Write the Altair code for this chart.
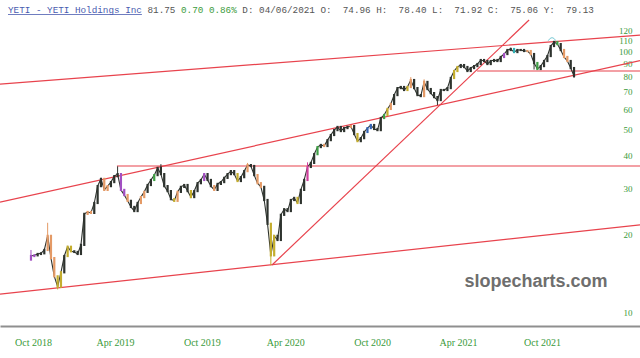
import json
import altair as alt
import pandas as pd

# ---- weekly closes (YETI, Oct 2018 - Dec 2021) ----
CLOSE = [16.5, 16.6, 16.8, 16.9, 17.4, 19.7, 16.2, 13.8, 12.6, 14.3,
         16.5, 17.9, 17.2, 17.1, 16.8, 18.2, 23.9, 24.3, 24.1, 26.3,
         30.5, 32.5, 29.5, 30.5, 31.6, 33.3, 33.9, 29.5, 28.2, 26.8,
         25.4, 24.5, 26.3, 27.7, 29.0, 30.8, 32.2, 33.6, 35.8, 33.9,
         30.5, 29.2, 27.2, 26.8, 29.0, 30.3, 30.8, 29.2, 27.7, 29.2,
         31.3, 32.2, 33.9, 32.2, 30.5, 29.5, 31.1, 31.6, 32.8, 33.9,
         34.8, 33.9, 31.9, 33.0, 34.8, 36.7, 36.4, 33.6, 31.3, 30.3,
         27.0, 21.9, 16.6, 19.7, 19.0, 23.7, 24.9, 24.5, 27.0, 27.5,
         26.3, 29.5, 32.2, 36.1, 37.4, 40.4, 43.0, 43.8, 43.4, 45.7,
         47.8, 49.9, 51.3, 49.5, 50.8, 51.3, 51.7, 48.2, 45.3, 46.5,
         49.1, 50.8, 52.2, 50.4, 49.9, 55.5, 57.0, 60.1, 62.8, 67.9,
         72.2, 72.9, 71.0, 72.9, 77.5, 72.2, 67.9, 67.3, 76.2, 71.6,
         69.1, 66.7, 65.0, 71.0, 71.0, 72.2, 78.9, 83.9, 86.9, 88.4,
         86.9, 83.9, 86.1, 87.6, 89.2, 92.4, 91.6, 89.2, 91.6, 92.4,
         91.6, 94.9, 97.4, 100.9, 101.8, 99.1, 100.9, 100.9, 100.0, 100.0,
         97.4, 90.0, 85.4, 87.6, 91.6, 95.7, 104.5, 108.2, 106.3, 100.9,
         94.9, 91.6, 86.1, 80.3]
OPEN0 = 16.0
# notable wick extremes (week -> price)
HIGH_WICKS = {0: 17.4, 5: 22.1, 26: 36.3, 39: 37.0, 65: 37.4, 83: 37.6,
              114: 79.5, 118: 78.0, 144: 103.0, 157: 109.5}
LOW_WICKS = {0: 15.9, 8: 12.3, 72: 15.2, 122: 62.2, 151: 85.0, 163: 79.0}
# candle colour categories (week -> code); others are dark
COLOR_OF = {0: 'p', 1: 'p', 5: 'o', 6: 'o', 7: 'o', 8: 'y', 9: 'y', 11: 'y', 12: 'y',
            17: 'o', 18: 'o', 22: 'o', 23: 'o', 27: 'p', 28: 'p', 29: 'o', 33: 'o',
            34: 'o', 37: 'g', 43: 'y', 44: 'o', 48: 'y', 52: 'p', 55: 'o', 62: 'y',
            65: 'o', 68: 'o', 69: 'o', 72: 'y', 73: 'y', 80: 'y', 83: 'm', 86: 'g',
            88: 'o', 96: 'o', 98: 'y', 101: 'b', 102: 'b', 106: 'g', 107: 'y',
            108: 'o', 113: 'y', 114: 'o', 118: 'o', 127: 'y', 128: 'y', 142: 'p',
            145: 't', 149: 'o', 150: 'o', 152: 'g', 158: 'g', 160: 'o', 161: 'o'}
CODES = ['k', 'o', 'y', 'p', 'g', 't', 'b', 'm']
CODE_COLORS = ['#2e332e', '#e49a66', '#c4ad2e', '#a24fc2', '#3f9f45', '#2fb0b4', '#3464b4', '#d0409e']

# trend lines: (week1, price1, week2, price2)
LINES = [(-9.3, 74.8, 182.8, 115.1),
         (-9.3, 26.5, 182.8, 91.9),
         (-9.3, 11.8, 182.8, 21.7),
         (25.8, 36.4, 182.8, 36.4),
         (133.9, 83.9, 182.8, 83.9),
         (72.35, 15.25, 149.5, 131.3)]
ARC = (156.4, 112.1)

X_DOMAIN = [-9.3, 182.8]
Y_DOMAIN = [8.92, 156.6]
X_TICKS = [0.6, 25.2, 51.3, 76.3, 102.4, 128.2, 153.4]
X_LABELS = ['Oct 2018', 'Apr 2019', 'Oct 2019', 'Apr 2020', 'Oct 2020', 'Apr 2021', 'Oct 2021']
Y_TICKS = [10, 20, 30, 40, 50, 60, 70, 80, 90, 100, 110, 120]

NB = "\u00a0"
TITLE_PARTS = [("YETI - YETI Holdings Inc", 0, "#4a5cb0"),
               ("81.75", 25, "#555555"),
               ("0.70 0.86%", 31, "#3c9c3c"),
               ("D: 04/06/2021 O:  74.96 H:  78.40 L:  71.92 C:  75.06 Y:  79.13", 42, "#555555")]
CHAR_W = 5.58

# ---- build tables ----
n = len(CLOSE)
opens = [OPEN0] + CLOSE[:-1]
lows, highs = [], []
for i, (o, c) in enumerate(zip(opens, CLOSE)):
    lows.append(min(o, c, LOW_WICKS.get(i, 1e9)))
    highs.append(max(o, c, HIGH_WICKS.get(i, 0)))
df = pd.DataFrame({
    "w": list(range(n)), "open": opens, "close": CLOSE,
    "low": lows, "high": highs, "c": [COLOR_OF.get(i, 'k') for i in range(n)],
})
lines_df = pd.DataFrame(LINES, columns=["w1", "p1", "w2", "p2"])
arc_df = pd.DataFrame({"w": [ARC[0]], "p": [ARC[1]]})
title_df = pd.DataFrame({
    "t": [p[0].replace(" ", NB) for p in TITLE_PARTS],
    "px": [8 + p[1] * CHAR_W for p in TITLE_PARTS],
    "col": [p[2] for p in TITLE_PARTS],
})

label_expr = f"{json.dumps(X_LABELS)}[indexof({json.dumps(X_TICKS)}, datum.value)]"

xscale = alt.Scale(domain=X_DOMAIN, nice=False, zero=False)
yscale = alt.Scale(type="log", domain=Y_DOMAIN, nice=False)

x_axis = alt.Axis(values=X_TICKS, labelExpr=label_expr, title=None, ticks=False,
                  grid=False, domainColor="#8f8f8f", domainWidth=2,
                  labelColor="#3a9a3a", labelFont="Liberation Serif", labelFontSize=10,
                  labelPadding=11, labelOverlap=False, labelFlush=False)
y_axis = alt.Axis(values=Y_TICKS, orient="right", title=None, ticks=False, grid=False,
                  domain=False, offset=-8, labelAlign="right", labelPadding=0,
                  labelColor="#3a9a3a", labelFont="Liberation Serif", labelFontSize=9)

color = alt.Color("c:N", scale=alt.Scale(domain=CODES, range=CODE_COLORS), legend=None)

lines = alt.Chart(lines_df).mark_rule(color="#e8434d", strokeWidth=1.2, clip=True).encode(
    x=alt.X("w1:Q", scale=xscale, axis=x_axis),
    x2="w2:Q",
    y=alt.Y("p1:Q", scale=yscale, axis=y_axis),
    y2="p2:Q",
)

path = alt.Chart(df).mark_line(color="#2e332e", strokeWidth=1.1).encode(
    x=alt.X("w:Q", scale=xscale),
    y=alt.Y("close:Q", scale=yscale),
)
wicks = alt.Chart(df).mark_rule(strokeWidth=1).encode(
    x=alt.X("w:Q", scale=xscale),
    y=alt.Y("low:Q", scale=yscale),
    y2="high:Q",
    color=color,
)
bodies = alt.Chart(df).mark_rule(strokeWidth=2.2, strokeCap="square").encode(
    x=alt.X("w:Q", scale=xscale),
    y=alt.Y("open:Q", scale=yscale),
    y2="close:Q",
    color=color,
)

arc = alt.Chart(arc_df).mark_point(shape="M -1 0.7 Q 0 -0.9 1 0.7", filled=False,
                                   stroke="#3fb3c4", strokeWidth=1, size=60).encode(
    x=alt.X("w:Q", scale=xscale),
    y=alt.Y("p:Q", scale=yscale),
)

title = alt.Chart(title_df).mark_text(font="Liberation Mono", fontSize=9.3, align="left",
                                      baseline="middle").encode(
    x=alt.X("px:Q", scale=None),
    y=alt.value(10),
    text="t:N",
    color=alt.Color("col:N", scale=None),
)
underline = alt.Chart(title_df.head(1)).mark_rule(color="#4a5cb0", strokeWidth=0.8).encode(
    x=alt.value(8), x2=alt.value(8 + 24 * CHAR_W), y=alt.value(14.5)
)

watermark = alt.Chart(arc_df).mark_text(text="slopecharts.com", font="Liberation Sans",
                                        fontSize=18, fontWeight="bold",
                                        color="#6e6e6e").encode(
    x=alt.value(536), y=alt.value(282)
)

chart = alt.layer(lines, path, wicks, bodies, arc, watermark, title, underline).resolve_scale(
    x="shared", y="shared"
).properties(
    width=640, height=326,
    autosize=alt.AutoSizeParams(type="none"),
    padding={"left": 0, "right": 0, "top": 0, "bottom": 32},
    background="white",
).configure_view(stroke=None)

chart.save("out.html", embed_options={"renderer": "svg", "actions": False})
